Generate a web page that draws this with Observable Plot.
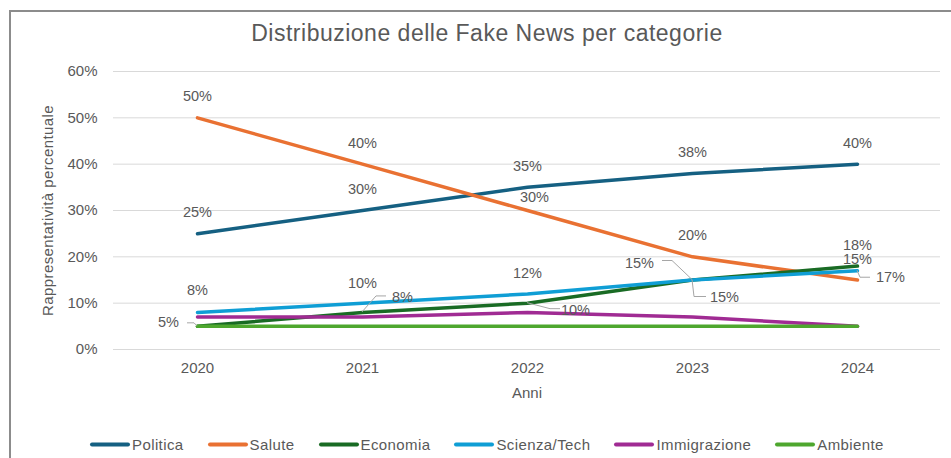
<!DOCTYPE html>
<html>
<head>
<meta charset="utf-8">
<script src="https://cdn.jsdelivr.net/npm/d3@7"></script>
<script src="https://cdn.jsdelivr.net/npm/@observablehq/plot@0.6"></script>
<style>
  html, body { margin: 0; padding: 0; background: #fff; }
  #wrap { position: relative; width: 951px; height: 458px; overflow: hidden; font-family: "Liberation Sans", Arial, sans-serif; color: #595959; }
  #frame { position: absolute; left: 9px; top: 10px; width: 1000px; height: 1000px; border: 2px solid #8c8c8c; box-sizing: border-box; }
  #title { position: absolute; left: 487px; top: 33px; transform: translate(-50%, -50%); font-size: 23px; letter-spacing: 0.5px; white-space: nowrap; color: #595959; }
  #chart { position: absolute; left: 0; top: 0; }
  #legend { position: absolute; left: 90px; top: 444px; transform: translateY(-50%); display: flex; align-items: center; font-size: 15px; letter-spacing: 0.4px; color: #595959; white-space: nowrap; }
  .item { display: flex; align-items: center; margin-right: 24px; }
  .sw { width: 40px; height: 4px; border-radius: 2px; margin-right: 2px; }
</style>
</head>
<body>
<div id="wrap">
  <div id="frame"></div>
  <div id="chart"></div>
  <div id="title"></div>
  <div id="legend"></div>
</div>
<script>
const years = [2020, 2021, 2022, 2023, 2024];
const seriesNames = ["Politica", "Salute", "Economia", "Scienza/Tech", "Immigrazione", "Ambiente"];
const colors = ["#156082", "#E97132", "#196B24", "#0F9ED5", "#A02B93", "#4EA72E"];
const politica = [0.25, 0.30, 0.35, 0.38, 0.40];
const salute = [0.50, 0.40, 0.30, 0.20, 0.15];
const economia = [0.05, 0.08, 0.10, 0.15, 0.18];
const scienza = [0.08, 0.10, 0.12, 0.15, 0.17];
const immigrazione = [0.07, 0.07, 0.08, 0.07, 0.05];
const ambiente = [0.05, 0.05, 0.05, 0.05, 0.05];
const yTicks = [0, 0.1, 0.2, 0.3, 0.4, 0.5, 0.6];
const title = "Distribuzione delle Fake News per categorie";
const xTitle = "Anni";
const yTitle = "Rappresentatività percentuale";

document.getElementById("title").textContent = title;

const allValues = [politica, salute, economia, scienza, immigrazione, ambiente];
const data = [];
seriesNames.forEach((s, i) => years.forEach((yr, j) => data.push({series: s, year: yr, value: allValues[i][j]})));

// label placement (layout only): offsets in px from the point, optional leader polyline
const labelLayout = [
  {s: "Politica", y: 2020, dx: 0, dy: -21}, {s: "Politica", y: 2021, dx: 0, dy: -21},
  {s: "Politica", y: 2022, dx: 0, dy: -21}, {s: "Politica", y: 2023, dx: 0, dy: -21},
  {s: "Politica", y: 2024, dx: 0, dy: -21},
  {s: "Salute", y: 2020, dx: 0, dy: -21}, {s: "Salute", y: 2021, dx: 0, dy: -21},
  {s: "Salute", y: 2022, dx: 7, dy: -13}, {s: "Salute", y: 2023, dx: 0, dy: -21},
  {s: "Salute", y: 2024, dx: 0, dy: -21},
  {s: "Economia", y: 2020, dx: -29, dy: -4, leader: [[-10,-3],[-3,-3],[0,0]]},
  {s: "Economia", y: 2021, dx: 40, dy: -15, leader: [[24,-16],[14,-16],[0,0]]},
  {s: "Economia", y: 2022, dx: 48, dy: 7, leader: [[33,6],[23,6],[0,0]]},
  {s: "Economia", y: 2023, dx: 32, dy: 17, leader: [[14,17],[2,17],[0,0]]},
  {s: "Economia", y: 2024, dx: 0, dy: -21},
  {s: "Scienza/Tech", y: 2020, dx: 0, dy: -22}, {s: "Scienza/Tech", y: 2021, dx: 0, dy: -20},
  {s: "Scienza/Tech", y: 2022, dx: 0, dy: -21},
  {s: "Scienza/Tech", y: 2023, dx: -53, dy: -17, leader: [[-30,-19],[-20,-19],[0,0]]},
  {s: "Scienza/Tech", y: 2024, dx: 33, dy: 7, leader: [[0,0],[3,7],[13,7]]}
];
const labels = labelLayout.map(l => ({...l, value: allValues[seriesNames.indexOf(l.s)][years.indexOf(l.y)]}));
const fmt = d3.format(".0%");

function leaders(index, scales, values, dimensions, context) {
  const g = d3.create("svg:g").attr("fill", "none").attr("stroke", "#a6a6a6").attr("stroke-width", 1);
  labels.filter(l => l.leader).forEach(l => {
    const px = scales.x(l.y), py = scales.y(l.value);
    g.append("path").attr("d", d3.line()(l.leader.map(([a, b]) => [px + a, py + b])));
  });
  return g.node();
}

const chart = Plot.plot({
  width: 951,
  height: 458,
  marginLeft: 113,
  marginRight: 11,
  marginTop: 71,
  marginBottom: 109,
  style: {fontFamily: "'Liberation Sans', Arial, sans-serif", background: "transparent", color: "#595959"},
  x: {type: "point", domain: years, padding: 0.5},
  y: {domain: [0, 0.6]},
  color: {domain: seriesNames, range: colors},
  marks: [
    Plot.ruleY(yTicks, {stroke: "#d9d9d9", strokeWidth: 1}),
    Plot.axisY({ticks: yTicks, tickFormat: fmt, tickSize: 0, tickPadding: 16, fontSize: 15, fill: "#595959", label: null}),
    Plot.axisX({tickSize: 0, tickPadding: 13, fontSize: 15, fill: "#595959", label: null, tickFormat: d => String(d)}),
    Plot.text([xTitle], {frameAnchor: "bottom", dy: 48, fontSize: 15, fill: "#595959"}),
    Plot.text([yTitle], {frameAnchor: "left", dx: -65, rotate: -90, textAnchor: "middle", fontSize: 15, fill: "#595959", style: "letter-spacing: 0.4px"}),
    Plot.line(data, {x: "year", y: "value", z: "series", stroke: "series", strokeWidth: 3.5, strokeLinecap: "round", strokeLinejoin: "round"}),
    leaders,
    ...labels.map(l => Plot.text([l], {x: "y", y: "value", dx: l.dx, dy: l.dy, text: d => fmt(d.value), fontSize: 14.5, fill: "#595959"}))
  ]
});
chart.querySelectorAll("text").forEach(t => { if (t.textContent === yTitle) t.setAttribute("letter-spacing", "0.4"); });
document.getElementById("chart").appendChild(chart);

const legend = document.getElementById("legend");
seriesNames.forEach((s, i) => {
  const it = document.createElement("div");
  it.className = "item";
  const sw = document.createElement("div");
  sw.className = "sw";
  sw.style.background = colors[i];
  const tx = document.createElement("span");
  tx.textContent = s;
  it.appendChild(sw); it.appendChild(tx);
  legend.appendChild(it);
});
</script>
</body>
</html>
